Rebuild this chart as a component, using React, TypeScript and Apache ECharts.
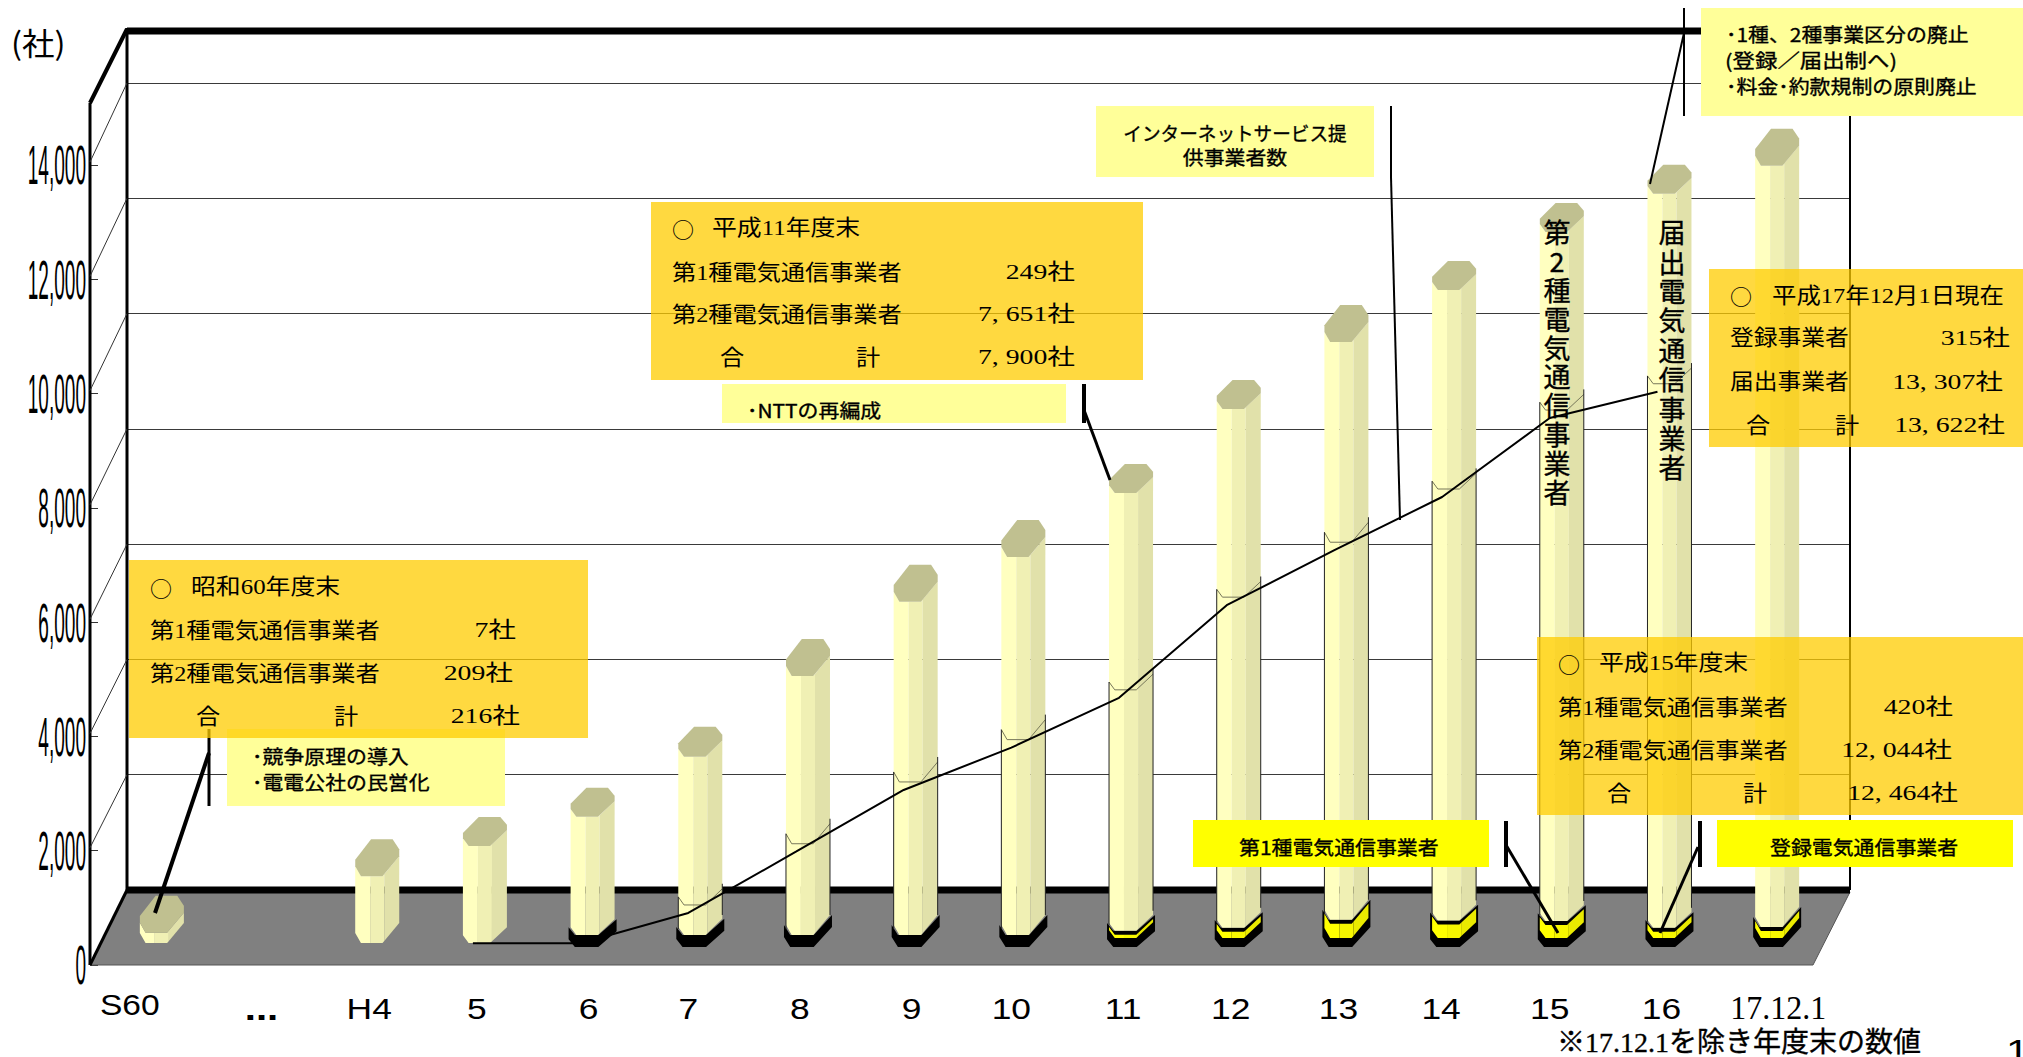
import React, { useEffect, useRef } from "react";
import * as echarts from "echarts";

// Fiscal-year categories ("..." is the gap between S60 and H4)
const categories = ["S60", "...", "H4", "5", "6", "7", "8", "9", "10", "11", "12", "13", "14", "15", "16", "17.12.1"];
// Total carriers per year
const totalCarriers = [216, null, 1200, 1730, 2240, 3290, 4700, 6000, 6780, 7900, 9370, 10540, 11450, 12464, 13130, 13622];
// Type 1 carriers (registered carriers for 17.12.1), the bottom segment of each column
const type1Carriers = [7, null, 0, 0, 175, 175, 175, 175, 175, 249, 300, 440, 430, 420, 300, 315];
// Internet service providers
const ispCarriers = [null, null, null, 30, 30, 560, 1630, 2710, 3450, 4320, 5940, 6900, 7830, 9210, 9670, null];
const yTicks = [0, 2000, 4000, 6000, 8000, 10000, 12000, 14000];
const yTickLabels = ["0", "2,000", "4,000", "6,000", "8,000", "10,000", "12,000", "14,000"];

// Depth of each column's octagonal cap, in pixels
const capDepths = [37, 0, 37, 29, 29, 30, 37, 37, 37, 29, 29, 37, 29, 29, 29, 37];
// Small horizontal adjustment of each category label, in pixels
const labelShifts = [-24, 0, 0, 0, 4, -4, 0, 4, -4, 0, 0, 0, -5, -4, 0, 9];

const GOTHIC = '"Noto Sans CJK JP", sans-serif';
const MINCHO = '"Liberation Serif", "Noto Sans CJK JP", serif';
const ARIAL = '"Liberation Sans", sans-serif';

const W = 2023;
const H = 1057;
const COL_W = 44;

// Room box corners
const FRONT_X = 90;
const BACK_X = 127;
const RIGHT_BACK_X = 1850;
const RIGHT_FRONT_X = 1813;
const FRONT_Y0 = 965;
const FRONT_Y14K = 165;
const BACK_Y0 = 890;
const BACK_Y14K = 83;
const TOP_BACK_Y = 31;
const TOP_FRONT_Y = 103;

// Column plane
const PLANE_Y0 = 945;
const PLANE_Y14K = 144;

// Lower outline of the octagonal section: [position across the width, depth fraction]
const lowerOutline: [number, number][] = [[0, 0.73], [0.13, 1], [0.62, 1], [1, 0.46]];
const capOutline: [number, number][] = [[0.36, 0], [0.85, 0], [1, 0.27], [1, 0.46], [0.62, 1], [0.13, 1], [0, 0.73], [0, 0.55]];
const faceBands: [number, number][] = [[0, 0.34], [0.34, 0.66], [0.66, 1]];
const paleFaces = ["#FFFFC0", "#F0F0B4", "#E1E1AA"];
const yellowFaces = ["#FFFF00", "#F6F600", "#EAEA00"];
const CAP_FILL = "#C0C090";

function outlineAt(u: number) {
  for (let i = 1; i < lowerOutline.length; i++) {
    const [u0, v0] = lowerOutline[i - 1];
    const [u1, v1] = lowerOutline[i];
    if (u <= u1) return v0 + ((u - u0) / (u1 - u0)) * (v1 - v0);
  }
  return lowerOutline[lowerOutline.length - 1][1];
}

// One vertical face between two heights, its top and bottom following the octagon
function bandPoints(left: number, width: number, a: number, b: number, yTop: number, yBottom: number, depth: number) {
  const us = [a, ...lowerOutline.map((p) => p[0]).filter((u) => u > a && u < b), b];
  const at = (u: number, y: number) => [left + u * width, y - (1 - outlineAt(u)) * depth];
  return [...us.map((u) => at(u, yTop)), ...us.slice().reverse().map((u) => at(u, yBottom))];
}

function renderColumn(params: any, api: any) {
  const idx = api.value(0);
  const type1 = api.value(1);
  const total = api.value(2);
  const isp = api.value(3);
  const depth = capDepths[idx];
  const cx = api.coord([idx, 0])[0];
  const y0 = api.coord([idx, 0])[1];
  const left = cx - COL_W / 2;
  const yTotal = api.coord([idx, total])[1];
  const yType1 = api.coord([idx, type1])[1];
  const children: any[] = [];
  const poly = (points: number[][], style: any) => ({ type: "polygon", shape: { points }, style });

  if (type1 > 10) {
    // Type 1 segment: dark shell with a yellow inner face once it is tall enough
    children.push(poly(bandPoints(left - 2, COL_W + 4, 0, 1, yType1, y0 + 2, depth), { fill: "#000" }));
    const yInnerTop = yType1 + 4;
    const yInnerBottom = y0 - 7;
    if (yInnerBottom > yInnerTop) {
      faceBands.forEach(([a, b], k) =>
        children.push(poly(bandPoints(left, COL_W, a, b, yInnerTop, yInnerBottom, depth), { fill: yellowFaces[k] }))
      );
    }
  }
  const yBodyBottom = type1 > 10 ? yType1 : y0 - 2;
  faceBands.forEach(([a, b], k) =>
    children.push(poly(bandPoints(left, COL_W, a, b, yTotal, yBodyBottom, depth), { fill: paleFaces[k] }))
  );
  // Cap of the column
  children.push(poly(capOutline.map(([u, v]) => [left + u * COL_W, yTotal - (1 - v) * depth]), { fill: CAP_FILL }));

  // Inner outline up to the ISP level, with rails down both edges
  if (!isNaN(isp) && isp > 100) {
    const yI = api.coord([idx, isp])[1] - 8;
    const pts = lowerOutline.map(([u, v]) => [left + u * COL_W, yI - (1 - v) * depth]);
    const railStyle = { stroke: "#222", lineWidth: 1, fill: "none" };
    children.push({
      type: "polyline",
      shape: { points: pts },
      style: { stroke: "#77775a", lineWidth: 1, fill: "none" },
    });
    children.push({
      type: "line",
      shape: { x1: pts[0][0], y1: pts[0][1], x2: pts[0][0], y2: yBodyBottom - 6 },
      style: railStyle,
    });
    children.push({
      type: "line",
      shape: { x1: left + COL_W, y1: pts[3][1] - 5, x2: left + COL_W, y2: yBodyBottom - 20 },
      style: railStyle,
    });
  }
  return { type: "group", children };
}

const columnRows = categories
  .map((_, i) => (totalCarriers[i] === null ? null : [i, type1Carriers[i], totalCarriers[i], ispCarriers[i]]))
  .filter(Boolean);

function renderYTick(params: any, api: any) {
  const v = api.value(1);
  const y = api.coord([0, v])[1];
  const x = params.coordSys.x;
  const children: any[] = [
    {
      type: "text",
      x: x - 4,
      y,
      scaleX: 0.34,
      style: {
        text: yTickLabels[params.dataIndex],
        font: `56px ${ARIAL}`,
        fill: "#000",
        align: "right",
        textAlign: "right",
        verticalAlign: "middle",
        textVerticalAlign: "middle",
      },
    },
  ];
  if (v > 0) {
    // Thin connector from the front axis up to the back wall's gridline
    const backY = BACK_Y0 - ((FRONT_Y0 - y) * (BACK_Y0 - BACK_Y14K)) / (FRONT_Y0 - FRONT_Y14K);
    children.push({
      type: "line",
      shape: { x1: x, y1: y - 3, x2: BACK_X, y2: backY },
      style: { stroke: "#333", lineWidth: 1 },
    });
  }
  return { type: "group", children };
}

function renderCategoryLabel(params: any, api: any) {
  const i = params.dataIndex;
  const name = categories[i];
  const [cx, y0] = api.coord([i, 0]);
  const isDate = name === "17.12.1";
  const isGap = name === "...";
  const font = isDate ? `33px "Liberation Serif", serif` : isGap ? `bold 34px ${ARIAL}` : `30px ${ARIAL}`;
  return {
    type: "text",
    x: cx - 8 + labelShifts[i],
    y: y0 + (name === "S60" ? 60 : 63),
    scaleX: isDate ? 0.97 : name === "S60" ? 1.12 : 1.18,
    style: {
      text: name,
      font,
      fill: "#000",
      align: "center",
      textAlign: "center",
      verticalAlign: "middle",
      textVerticalAlign: "middle",
    },
  };
}

function txt(text: string, x: number, y: number, size: number, family: string, sx = 1.1, align = "left", z = 47, extra: any = {}) {
  return {
    type: "text",
    x,
    y,
    scaleX: sx,
    z,
    silent: true,
    style: {
      text,
      font: `${size}px ${family}`,
      fill: "#000",
      align,
      textAlign: align,
      verticalAlign: "middle",
      textVerticalAlign: "middle",
      ...extra,
    },
  };
}

// Gothic notes carry a hairline stroke so they read a little heavier
const heavy = { stroke: "#000", lineWidth: 0.35 };
const gothicNote = (text: string, x: number, y: number, sx = 1.1, align = "left") =>
  txt(text, x, y, 19, GOTHIC, sx, align, 37, heavy);

const columnCaption = (text: string, x: number, lineHeight: number) => ({
  type: "text",
  x,
  y: 217,
  z: 25,
  silent: true,
  style: {
    text,
    font: `27px ${GOTHIC}`,
    lineHeight,
    fill: "#000",
    align: "center",
    textAlign: "center",
    verticalAlign: "top",
    textVerticalAlign: "top",
    ...heavy,
  },
});

function box(x0: number, y0: number, x1: number, y1: number, fill: string, z = 40) {
  return { type: "rect", z, silent: true, shape: { x: x0, y: y0, width: x1 - x0, height: y1 - y0 }, style: { fill } };
}

function seg(x1: number, y1: number, x2: number, y2: number, lineWidth: number, z = 30, stroke = "#000") {
  return { type: "line", z, silent: true, shape: { x1, y1, x2, y2 }, style: { stroke, lineWidth, lineCap: "butt" } };
}

const ORANGE = "rgba(255,204,0,0.75)";
const PALE = "#FFFF99";
const YELLOW = "#FFFF00";

const roomElements = [
  {
    type: "polygon",
    z: 1,
    silent: true,
    shape: { points: [[BACK_X, 892], [RIGHT_BACK_X, 892], [RIGHT_FRONT_X, FRONT_Y0], [FRONT_X, FRONT_Y0]] },
    style: { fill: "#808080", stroke: "#555", lineWidth: 1 },
  },
  seg(BACK_X, BACK_Y0, RIGHT_BACK_X, BACK_Y0, 7, 1),
  seg(BACK_X, TOP_BACK_Y, RIGHT_BACK_X, TOP_BACK_Y, 7, 1),
  seg(BACK_X, TOP_BACK_Y - 3, BACK_X, BACK_Y0, 3, 1),
  seg(RIGHT_BACK_X, TOP_BACK_Y, RIGHT_BACK_X, BACK_Y0, 2, 1),
  seg(FRONT_X, TOP_FRONT_Y, FRONT_X, FRONT_Y0, 3, 1),
  seg(FRONT_X, TOP_FRONT_Y, BACK_X, TOP_BACK_Y - 2, 4, 1),
  seg(FRONT_X, FRONT_Y0, BACK_X, BACK_Y0, 3, 1),
];

const leaderElements = [
  seg(209, 729, 209, 806, 3),
  seg(209, 753, 155, 913, 4),
  seg(1084, 384, 1084, 423, 4),
  seg(1084, 410, 1110, 480, 3),
  seg(1391, 106, 1391, 177, 2),
  seg(1391, 177, 1400, 520, 2),
  seg(1684, 8, 1684, 116, 2),
  seg(1684, 33, 1650, 184, 2),
  seg(1506, 821, 1506, 867, 4),
  seg(1506, 845, 1558, 933, 3),
  seg(1700, 821, 1700, 867, 4),
  seg(1698, 847, 1660, 933, 3),
];

const noteBoxes = [
  box(227, 729, 505, 806, PALE, 35),
  box(722, 384, 1066, 423, PALE, 35),
  box(1096, 106, 1374, 177, PALE, 35),
  box(1701, 8, 2023, 116, PALE, 35),
  box(1193, 820, 1489, 867, YELLOW, 35),
  box(1717, 820, 2013, 867, YELLOW, 35),
  box(129, 560, 588, 738, ORANGE),
  box(651, 202, 1143, 380, ORANGE),
  box(1709, 269, 2023, 447, ORANGE),
  box(1537, 637, 2023, 815, ORANGE),
];

const VALUE_SX = 1.26;
const noteTexts = [
  // Shōwa 60 figures
  txt("○", 150, 587, 22, GOTHIC, 1),
  txt("昭和60年度末", 191, 587, 22, MINCHO, 1.13),
  txt("第1種電気通信事業者", 150, 630, 22, MINCHO),
  txt("7社", 516, 630, 22, MINCHO, VALUE_SX, "right"),
  txt("第2種電気通信事業者", 150, 673, 22, MINCHO),
  txt("209社", 513, 673, 22, MINCHO, VALUE_SX, "right"),
  txt("合", 196, 716, 22, MINCHO),
  txt("計", 334, 716, 22, MINCHO),
  txt("216社", 520, 716, 22, MINCHO, VALUE_SX, "right"),
  // Heisei 11 figures
  txt("○", 672, 228, 22, GOTHIC, 1),
  txt("平成11年度末", 712, 228, 22, MINCHO, 1.13),
  txt("第1種電気通信事業者", 672, 272, 22, MINCHO),
  txt("249社", 1075, 272, 22, MINCHO, VALUE_SX, "right"),
  txt("第2種電気通信事業者", 672, 314, 22, MINCHO),
  txt("7, 651社", 1075, 314, 22, MINCHO, VALUE_SX, "right"),
  txt("合", 720, 357, 22, MINCHO),
  txt("計", 856, 357, 22, MINCHO),
  txt("7, 900社", 1075, 357, 22, MINCHO, VALUE_SX, "right"),
  // Heisei 15 figures
  txt("○", 1558, 663, 22, GOTHIC, 1),
  txt("平成15年度末", 1599, 663, 22, MINCHO, 1.13),
  txt("第1種電気通信事業者", 1558, 707, 22, MINCHO),
  txt("420社", 1953, 707, 22, MINCHO, VALUE_SX, "right"),
  txt("第2種電気通信事業者", 1558, 750, 22, MINCHO),
  txt("12, 044社", 1952, 750, 22, MINCHO, VALUE_SX, "right"),
  txt("合", 1607, 793, 22, MINCHO),
  txt("計", 1743, 793, 22, MINCHO),
  txt("12, 464社", 1958, 793, 22, MINCHO, VALUE_SX, "right"),
  // Heisei 17 figures
  txt("○", 1730, 295, 22, GOTHIC, 1),
  txt("平成17年12月1日現在", 1772, 295, 22, MINCHO, 1.11),
  txt("登録事業者", 1730, 338, 22, MINCHO, 1.08),
  txt("315社", 2010, 338, 22, MINCHO, VALUE_SX, "right"),
  txt("届出事業者", 1730, 382, 22, MINCHO, 1.08),
  txt("13, 307社", 2003, 382, 22, MINCHO, VALUE_SX, "right"),
  txt("合", 1746, 425, 22, MINCHO),
  txt("計", 1835, 425, 22, MINCHO),
  txt("13, 622社", 2005, 425, 22, MINCHO, VALUE_SX, "right"),
  // Policy notes
  gothicNote("･競争原理の導入", 252, 756),
  gothicNote("･電電公社の民営化", 252, 782),
  gothicNote("･NTTの再編成", 747, 410),
  gothicNote("インターネットサービス提", 1235, 132, 0.98, "center"),
  gothicNote("供事業者数", 1235, 157, 1.1, "center"),
  gothicNote("･1種、2種事業区分の廃止", 1726, 34),
  gothicNote("(登録／届出制へ)", 1725, 60, 1.18),
  gothicNote("･料金･約款規制の原則廃止", 1726, 86),
  gothicNote("第1種電気通信事業者", 1239, 847),
  gothicNote("登録電気通信事業者", 1770, 847),
  // Series names written down the columns
  columnCaption("第\n2\n種\n電\n気\n通\n信\n事\n業\n者", 1557, 28.9),
  columnCaption("届\n出\n電\n気\n通\n信\n事\n業\n者", 1672, 29.4),
  txt("(社)", 11, 41, 31, GOTHIC, 1.05, "left", 10),
  txt("※17.12.1を除き年度末の数値", 1557, 1042, 28, MINCHO, 1.0, "left", 10, heavy),
  txt("1", 2006, 1051, 32, ARIAL, 1.3, "left", 10),
];

const hiddenCategory = (gridIndex: number) => ({
  type: "category" as const,
  gridIndex,
  data: categories,
  show: false,
});
const hiddenValue = (gridIndex: number) => ({
  type: "value" as const,
  gridIndex,
  min: 0,
  max: 14000,
  interval: 2000,
  show: false,
});

function buildOption() {
  const planeGrid = { left: 108, width: 1723, top: PLANE_Y14K, height: PLANE_Y0 - PLANE_Y14K };
  return {
    animation: false,
    backgroundColor: "#fff",
    grid: [
      planeGrid,
      // The ISP line sits slightly left of the column centres
      { ...planeGrid, left: 96 },
      // Back wall
      { left: BACK_X, width: RIGHT_BACK_X - BACK_X, top: BACK_Y14K, height: BACK_Y0 - BACK_Y14K },
      // Front axis
      { left: FRONT_X, width: RIGHT_FRONT_X - FRONT_X, top: FRONT_Y14K, height: FRONT_Y0 - FRONT_Y14K },
    ],
    xAxis: [hiddenCategory(0), hiddenCategory(1), hiddenCategory(2), hiddenCategory(3)],
    yAxis: [
      hiddenValue(0),
      hiddenValue(1),
      {
        ...hiddenValue(2),
        show: true,
        axisLine: { show: false },
        axisTick: { show: false },
        axisLabel: { show: false },
        splitLine: { show: true, lineStyle: { color: "#3a3a3a", width: 1 } },
      },
      {
        ...hiddenValue(3),
        show: true,
        axisLine: { show: false },
        axisTick: { show: true, inside: true, length: 8, lineStyle: { color: "#333", width: 1 } },
        axisLabel: { show: false },
        splitLine: { show: false },
      },
    ],
    series: [
      {
        type: "custom",
        name: "事業者数",
        xAxisIndex: 0,
        yAxisIndex: 0,
        z: 5,
        silent: true,
        clip: false,
        renderItem: renderColumn,
        data: columnRows,
      },
      {
        type: "line",
        name: "インターネットサービス提供事業者数",
        xAxisIndex: 1,
        yAxisIndex: 1,
        z: 6,
        silent: true,
        showSymbol: false,
        connectNulls: false,
        lineStyle: { color: "#000", width: 2 },
        data: ispCarriers,
      },
      {
        type: "custom",
        xAxisIndex: 3,
        yAxisIndex: 3,
        z: 4,
        silent: true,
        clip: false,
        renderItem: renderYTick,
        data: yTicks.map((v) => [0, v]),
      },
      {
        type: "custom",
        xAxisIndex: 0,
        yAxisIndex: 0,
        z: 4,
        silent: true,
        clip: false,
        renderItem: renderCategoryLabel,
        data: categories.map((_, i) => [i, 0]),
      },
    ],
    graphic: { elements: [...roomElements, ...leaderElements, ...noteBoxes, ...noteTexts] },
  };
}

export default function App() {
  const ref = useRef<HTMLDivElement>(null);
  useEffect(() => {
    document.body.style.margin = "0";
    const chart = echarts.init(ref.current!, undefined, { renderer: "svg" });
    chart.setOption(buildOption() as any);
    return () => chart.dispose();
  }, []);
  return <div ref={ref} style={{ position: "absolute", left: 0, top: 0, width: W, height: H }} />;
}
